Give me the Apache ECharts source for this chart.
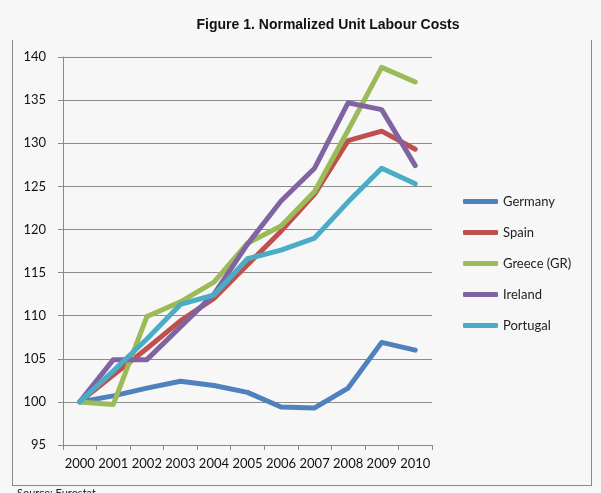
<!DOCTYPE html>
<html>
<head>
<meta charset="utf-8">
<script src="https://cdn.jsdelivr.net/npm/echarts@6/dist/echarts.min.js"></script>
<style>
  html, body { margin: 0; padding: 0; background: #f7f7f7; }
  #chart { width: 601px; height: 493px; }
</style>
</head>
<body>
<div id="chart"></div>
<script>
// Unit labour cost index, 2000 = 100
const years = ['2000', '2001', '2002', '2003', '2004', '2005', '2006', '2007', '2008', '2009', '2010'];
const germany  = [100.0, 100.7, 101.6, 102.4, 101.9, 101.1, 99.4, 99.3, 101.6, 106.9, 106.0];
const spain    = [100.0, 103.1, 106.2, 109.4, 112.0, 115.9, 119.8, 124.1, 130.3, 131.4, 129.3];
const greece   = [100.0, 99.7, 109.9, 111.6, 113.9, 118.4, 120.4, 124.4, 131.5, 138.8, 137.1];
const ireland  = [100.0, 104.9, 104.9, 108.7, 112.5, 118.3, 123.3, 127.1, 134.7, 133.9, 127.4];
const portugal = [100.0, 103.6, 107.3, 111.3, 112.4, 116.6, 117.6, 119.0, 123.2, 127.1, 125.3];

const seriesDefs = [
  { name: 'Germany', data: germany, color: '#4f81bd' },
  { name: 'Spain', data: spain, color: '#c0504d' },
  { name: 'Greece (GR)', data: greece, color: '#9bbb59' },
  { name: 'Ireland', data: ireland, color: '#8064a2' },
  { name: 'Portugal', data: portugal, color: '#4bacc6' }
];

const chart = echarts.init(document.getElementById('chart'), null, { renderer: 'canvas' });
const axisGrey = '#8a8a8a';
const labelFont = 'Lato, "Open Sans", sans-serif';

chart.setOption({
  backgroundColor: '#f7f7f7',
  animation: false,
  title: {
    text: 'Figure 1. Normalized Unit Labour Costs',
    left: 323,
    top: 13,
    textAlign: 'center',
    textStyle: { fontFamily: '"Liberation Sans", Arial, sans-serif', fontSize: 14, fontWeight: 'bold', color: '#111' }
  },
  grid: { left: 63, right: 169, top: 57, bottom: 48 },
  legend: {
    orient: 'vertical',
    left: 458,
    top: 190,
    itemWidth: 35,
    itemHeight: 5,
    itemGap: 18,
    icon: 'roundRect',
    textStyle: { fontFamily: labelFont, fontSize: 13, color: '#222' },
    data: seriesDefs.map(s => s.name)
  },
  xAxis: {
    type: 'category',
    data: years,
    boundaryGap: true,
    axisLine: { lineStyle: { color: axisGrey, width: 1 } },
    axisTick: { show: true, length: 5, lineStyle: { color: axisGrey } },
    axisLabel: { interval: 0, margin: 12, fontFamily: labelFont, fontSize: 13, color: '#111' },
    splitLine: { show: false }
  },
  yAxis: {
    type: 'value',
    min: 95,
    max: 140,
    interval: 5,
    axisLine: { show: true, lineStyle: { color: axisGrey, width: 1 } },
    axisTick: { show: true, inside: false, length: 5, lineStyle: { color: axisGrey } },
    axisLabel: { margin: 17, fontFamily: labelFont, fontSize: 13, color: '#111' },
    splitLine: { show: true, lineStyle: { color: '#8c8c8c', width: 1 } }
  },
  series: seriesDefs.map(s => ({
    name: s.name,
    type: 'line',
    data: s.data,
    symbol: 'none',
    color: s.color,
    lineStyle: { width: 5, color: s.color, cap: 'round', join: 'round' }
  })),
  graphic: [
    { type: 'line', shape: { x1: 12.5, y1: 40, x2: 12.5, y2: 486 }, style: { stroke: '#8a8a8a', lineWidth: 1 } },
    { type: 'line', shape: { x1: 591.5, y1: 40, x2: 591.5, y2: 486 }, style: { stroke: '#8a8a8a', lineWidth: 1 } },
    { type: 'line', shape: { x1: 12, y1: 485.5, x2: 592, y2: 485.5 }, style: { stroke: '#8a8a8a', lineWidth: 1 } },
    { type: 'text', left: 17, top: 488, style: { text: 'Source: Eurostat', font: '11px ' + labelFont, fill: '#222' } }
  ]
});
</script>
</body>
</html>
